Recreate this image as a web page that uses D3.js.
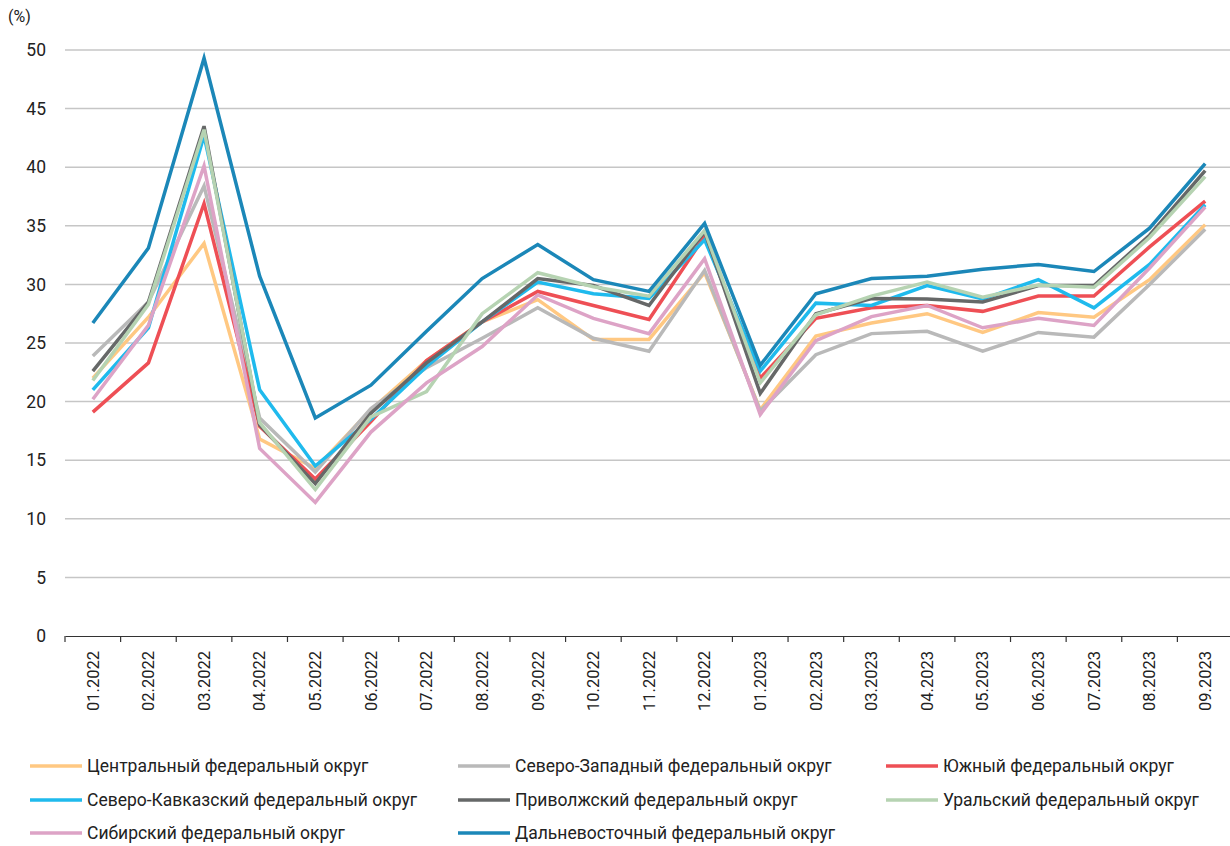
<!DOCTYPE html>
<html lang="ru">
<head>
<meta charset="utf-8">
<title>Chart</title>
<script src="https://d3js.org/d3.v7.min.js"></script>
<style>
  body { margin: 0; background: #fff; }
  text { font-family: Roboto, "Noto Sans", sans-serif; fill: #222; }
</style>
</head>
<body>
<svg id="chart"></svg>
<script>
var months = ["01.2022","02.2022","03.2022","04.2022","05.2022","06.2022","07.2022","08.2022","09.2022","10.2022","11.2022","12.2022",
              "01.2023","02.2023","03.2023","04.2023","05.2023","06.2023","07.2023","08.2023","09.2023"];
var yTicks = [0,5,10,15,20,25,30,35,40,45,50];

var central  = [22.0,27.2,33.5,16.8,14.3,19.3,23.5,26.8,28.7,25.3,25.3,31.0,19.3,25.6,26.7,27.5,25.9,27.6,27.2,30.4,35.1];
var northWest= [23.9,28.5,38.4,18.6,14.0,19.4,22.9,25.4,28.0,25.4,24.3,31.2,19.2,24.0,25.8,26.0,24.3,25.9,25.5,30.0,34.7];
var south    = [19.1,23.3,36.9,17.9,13.4,18.3,23.5,26.8,29.4,28.2,27.0,34.1,22.0,27.1,28.0,28.2,27.7,29.0,29.0,33.2,37.1];
var nCaucasus= [21.0,26.3,42.7,21.0,14.5,18.5,23.0,26.8,30.2,29.2,28.8,33.8,22.6,28.4,28.2,29.9,28.75,30.4,28.0,31.7,36.8];
var volga    = [22.6,28.5,43.5,18.0,13.0,19.0,23.3,26.8,30.5,29.9,28.2,34.5,20.7,27.5,28.8,28.75,28.5,29.9,29.9,34.2,39.7];
var ural     = [21.8,28.3,43.2,18.2,12.5,18.7,20.85,27.5,31.0,29.8,29.0,34.6,21.6,27.4,29.0,30.2,28.9,29.95,29.75,34.0,39.2];
var siberia  = [20.2,26.5,40.1,16.0,11.4,17.4,21.6,24.7,29.1,27.1,25.8,32.2,18.9,25.2,27.25,28.2,26.3,27.1,26.5,31.4,36.6];
var farEast  = [26.7,33.1,49.3,30.7,18.6,21.4,26.0,30.5,33.4,30.4,29.4,35.2,23.1,29.2,30.5,30.7,31.3,31.7,31.1,34.8,40.3];

var seriesNames = ["Центральный федеральный округ","Северо-Западный федеральный округ","Южный федеральный округ",
                   "Северо-Кавказский федеральный округ","Приволжский федеральный округ","Уральский федеральный округ",
                   "Сибирский федеральный округ","Дальневосточный федеральный округ"];
var seriesValues = [central, northWest, south, nCaucasus, volga, ural, siberia, farEast];
var seriesColors = ["#ffc882","#b9b9b9","#ee4f55","#1fbaed","#666868","#b6d3b2","#dda3c6","#1b87b8"];

var width = 1230, height = 846;
var svg = d3.select("#chart").attr("width", width).attr("height", height);

var x = d3.scaleBand().domain(months).range([65, 1233]);
var y = d3.scaleLinear().domain([0, 50]).range([636, 50]);

// gridlines
svg.append("g")
   .selectAll("line")
   .data(yTicks.filter(function(d){ return d > 0; }))
   .enter()
   .append("line")
   .attr("x1", 65)
   .attr("x2", width)
   .attr("y1", function(d){ return y(d); })
   .attr("y2", function(d){ return y(d); })
   .attr("stroke", "#c6c6c6")
   .attr("stroke-width", 1.5);

// y axis labels
var yAxis = d3.axisLeft(y).tickValues(yTicks).tickSize(0).tickPadding(0);
svg.append("g")
   .attr("transform", "translate(46,0)")
   .call(yAxis)
   .call(function(g){ g.select(".domain").remove(); })
   .selectAll("text")
   .attr("font-size", 17.5)
   .attr("font-family", "Roboto, 'Noto Sans', sans-serif")
   .attr("fill", "#222");

svg.append("text")
   .text("(%)")
   .attr("x", 8)
   .attr("y", 22)
   .attr("font-size", 16);

// x axis
var xAxis = d3.axisBottom(x).tickSize(0).tickPadding(0);
var gx = svg.append("g")
   .attr("transform", "translate(0,636)")
   .call(xAxis);
gx.select(".domain").attr("stroke", "#333").attr("stroke-width", 1.2);
gx.selectAll(".tick line").remove();
gx.selectAll(".tick text")
  .attr("transform", "rotate(-90)")
  .attr("text-anchor", "end")
  .attr("dy", "0.35em")
  .attr("x", -15)
  .attr("y", 0)
  .attr("font-size", 16.5)
  .attr("font-family", "Roboto, 'Noto Sans', sans-serif")
  .attr("fill", "#222");

// tick marks between categories
var tickPos = months.map(function(m){ return x(m); });
svg.append("g")
   .selectAll("line")
   .data(tickPos)
   .enter()
   .append("line")
   .attr("x1", function(d){ return d; })
   .attr("x2", function(d){ return d; })
   .attr("y1", 636)
   .attr("y2", 642)
   .attr("stroke", "#333")
   .attr("stroke-width", 1.2);

// lines
var line = d3.line()
  .x(function(d, i){ return x(months[i]) + x.bandwidth() / 2; })
  .y(function(d){ return y(d); });

svg.append("g")
   .selectAll("path")
   .data(seriesValues)
   .enter()
   .append("path")
   .attr("d", line)
   .attr("fill", "none")
   .attr("stroke", function(d, i){ return seriesColors[i]; })
   .attr("stroke-width", 3.5)
   .attr("stroke-linejoin", "miter");

// legend
var legX = [30, 458, 886];
var legY = [766, 800, 833];
var leg = svg.append("g")
   .selectAll("g")
   .data(seriesNames)
   .enter()
   .append("g")
   .attr("transform", function(d, i){ return "translate(" + legX[i % 3] + "," + legY[Math.floor(i / 3)] + ")"; });
leg.append("line")
   .attr("x1", 0).attr("x2", 52)
   .attr("y1", 0).attr("y2", 0)
   .attr("stroke", function(d, i){ return seriesColors[i]; })
   .attr("stroke-width", 3.5);
leg.append("text")
   .text(function(d){ return d; })
   .attr("x", 57)
   .attr("dy", "0.35em")
   .attr("font-size", 17.5);
</script>
</body>
</html>
